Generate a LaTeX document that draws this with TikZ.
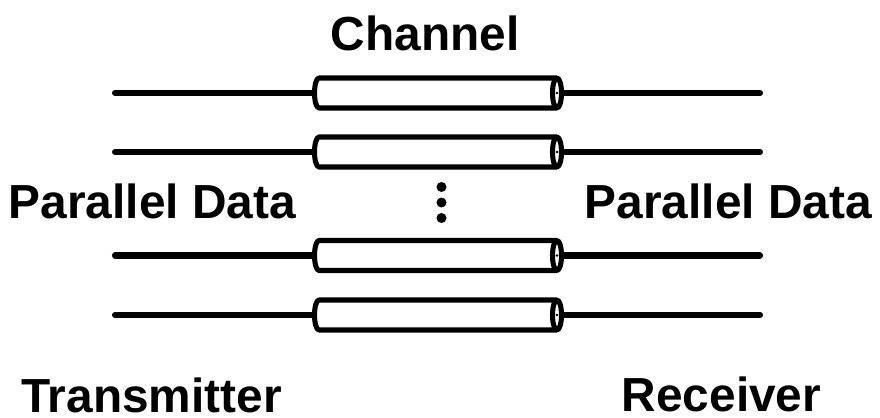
\documentclass[tikz,border=0pt]{standalone}
\usepackage{fontspec}
\setmainfont{Liberation Sans}

\begin{document}
\begin{tikzpicture}[x=0.025cm,y=-0.025cm,
  wire/.style={line width=4.3pt,line cap=round},
  tube/.style={line width=3.6pt,fill=white,line join=round},
  lbl/.style={font=\fontsize{34}{40}\selectfont\bfseries,inner sep=0pt}]
\useasboundingbox (0,0) rectangle (880,417);

% Channel lines
\foreach \y [count=\i] in {93,152,255.5,315} {
  \coordinate (l\i) at (115,\y);
  \coordinate (a\i) at (314.5,\y);
  \coordinate (b\i) at (561.5,\y);
  \coordinate (r\i) at (760,\y);
  \draw[wire] (l\i) -- (a\i);
  \draw[wire] (b\i) -- (r\i);
  \draw[tube] (557,\y-15) -- (319,\y-15) arc (90:270:0.1125cm and 0.375cm)
    -- (557,\y+15);
  \draw[tube] (557,\y) ellipse [x radius=0.1125cm, y radius=0.375cm];
  \fill (557,\y) circle (1.4);
}

% Dots between the rows
\foreach \y in {187,202.5,218}
  \fill (441.5,\y) circle (5);

% Labels
\node[lbl,anchor=base] (chan) at (425,50) {Channel};
\node[lbl,anchor=base west] (pdl) at (8.5,218) {Parallel Data};
\node[lbl,anchor=base west] (pdr) at (584.5,218) {Parallel Data};
\node[lbl,anchor=base west] (tx) at (21,412) {Transmitter};
\node[lbl,anchor=base west] (rx) at (621.5,411) {Receiver};

\end{tikzpicture}
\end{document}
